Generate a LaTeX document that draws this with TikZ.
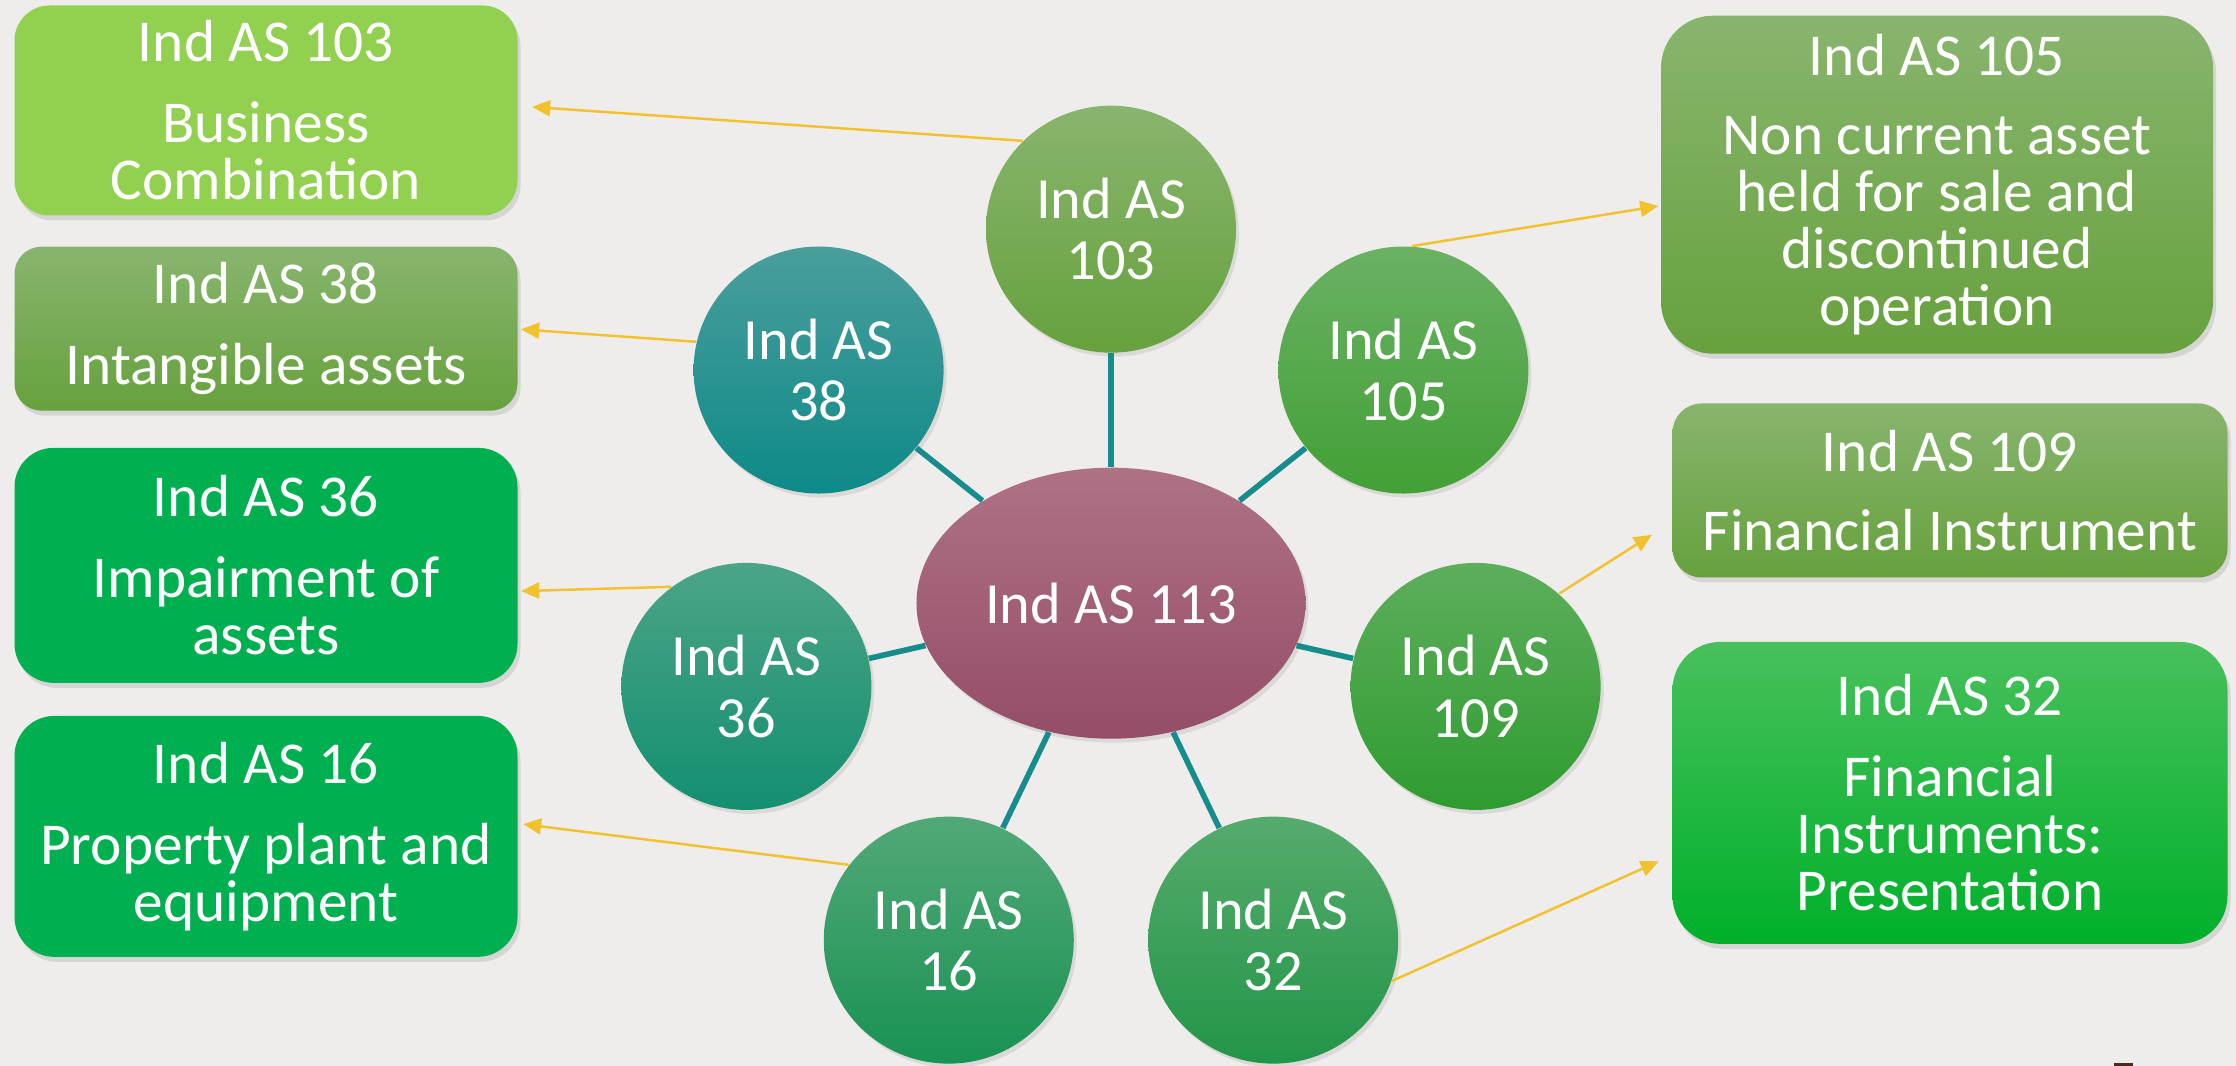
\documentclass[tikz,border=0pt]{standalone}
\usepackage{fontspec}
\setmainfont{Carlito}
\usetikzlibrary{shapes.geometric,arrows.meta,shadows}

\definecolor{bgcol}{HTML}{EEEDEB}
\definecolor{spokecol}{HTML}{178C8C}
\definecolor{linkcol}{HTML}{F2C12E}
\definecolor{limegreen}{HTML}{92D050}
\definecolor{plaingreen}{HTML}{00B050}
\definecolor{olivetop}{HTML}{88B56E}
\definecolor{olivebot}{HTML}{67A13D}
\definecolor{brighttop}{HTML}{48C05C}
\definecolor{brightbot}{HTML}{00B02A}
\definecolor{hubtop}{HTML}{AE7285}
\definecolor{hubbot}{HTML}{954D68}
\definecolor{teal38top}{HTML}{4A9E9C}
\definecolor{teal38bot}{HTML}{0D8A88}
\definecolor{g105top}{HTML}{6AB164}
\definecolor{g105bot}{HTML}{42A035}
\definecolor{g36top}{HTML}{4CA488}
\definecolor{g36bot}{HTML}{138F70}
\definecolor{g109top}{HTML}{5EAE5C}
\definecolor{g109bot}{HTML}{2E9C30}
\definecolor{g16top}{HTML}{52A878}
\definecolor{g16bot}{HTML}{199253}
\definecolor{g32top}{HTML}{56AB6C}
\definecolor{g32bot}{HTML}{229548}
\definecolor{pagemark}{HTML}{4A2A1E}

\tikzset{
  box/.style={align=center, text=white, inner sep=0pt, minimum width=5.03cm,
    font=\fontsize{16.9}{16.2}\selectfont,
    drop shadow={opacity=0.22, shadow xshift=0.03cm, shadow yshift=-0.05cm}},
  sat/.style={ellipse, align=center, text=white, inner sep=0pt,
    minimum width=2.5cm, minimum height=2.47cm,
    font=\fontsize{16.6}{17.4}\selectfont,
    drop shadow={opacity=0.18, shadow xshift=0.03cm, shadow yshift=-0.04cm}},
  spoke/.style={draw=spokecol, line width=1.6pt},
  link/.style={draw=linkcol, line width=0.7pt, -{Triangle[length=1.8mm,width=1.6mm]}}
}

\begin{document}
\begin{tikzpicture}
    \fill[bgcol] (0,0) rectangle (22.36,10.66);
    % left boxes
    \node[box, fill=limegreen, minimum height=2.10cm, rounded corners=0.35cm] (b103) at (2.66,9.555)
        {Ind AS 103\\[0.24cm]Business\\Combination};
    \node[box, top color=olivetop, bottom color=olivebot, minimum height=1.64cm, rounded corners=0.27cm] (b38) at (2.66,7.373)
        {Ind AS 38\\[0.24cm]Intangible assets};
    \node[box, fill=plaingreen, minimum height=2.35cm, rounded corners=0.39cm] (b36) at (2.66,5.006)
        {Ind AS 36\\[0.24cm]Impairment of\\assets};
    \node[box, fill=plaingreen, minimum height=2.41cm, rounded corners=0.40cm] (b16) at (2.66,2.296)
        {Ind AS 16\\[0.24cm]Property plant and\\equipment};
    % right boxes
    \node[box, top color=olivetop, bottom color=olivebot, minimum width=5.52cm, minimum height=3.38cm, rounded corners=0.52cm] (b105) at (19.37,8.813)
        {Ind AS 105\\[0.22cm]Non current asset\\held for sale and\\discontinued\\operation};
    \node[box, top color=olivetop, bottom color=olivebot, minimum width=5.55cm, minimum height=1.74cm, rounded corners=0.29cm] (b109) at (19.50,5.755)
        {Ind AS 109\\[0.22cm]Financial Instrument};
    \node[box, top color=brighttop, bottom color=brightbot, minimum width=5.55cm, minimum height=3.02cm, rounded corners=0.48cm] (b32) at (19.50,2.731)
        {Ind AS 32\\[0.24cm]Financial\\Instruments:\\Presentation};

    % hub and satellites
    \node[ellipse, minimum width=3.65cm, minimum height=2.71cm, top color=hubtop, bottom color=hubbot,
        text=white, font=\fontsize{16.6}{17.4}\selectfont,
        drop shadow={opacity=0.18, shadow xshift=0.03cm, shadow yshift=-0.04cm}] (c113) at (11.11,4.628) {Ind AS 113};
    \node[sat, top color=olivetop, bottom color=olivebot] (s103) at ([shift={(90:3.74)}]c113) {Ind AS\\103};
    \node[sat, top color=teal38top, bottom color=teal38bot] (s38) at ([shift={(141.43:3.74)}]c113) {Ind AS\\38};
    \node[sat, top color=g105top, bottom color=g105bot] (s105) at ([shift={(38.57:3.74)}]c113) {Ind AS\\105};
    \node[sat, top color=g36top, bottom color=g36bot] (s36) at ([shift={(192.86:3.74)}]c113) {Ind AS\\36};
    \node[sat, top color=g109top, bottom color=g109bot] (s109) at ([shift={(347.14:3.74)}]c113) {Ind AS\\109};
    \node[sat, top color=g16top, bottom color=g16bot] (s16) at ([shift={(244.29:3.74)}]c113) {Ind AS\\16};
    \node[sat, top color=g32top, bottom color=g32bot] (s32) at ([shift={(295.71:3.74)}]c113) {Ind AS\\32};

    \foreach \s in {s103,s38,s105,s36,s109,s16,s32}
        \draw[spoke] (c113) -- (\s);

    % arrow tips next to the boxes
    \coordinate (t103) at ([xshift=0.14cm,yshift=0.035cm]b103.east);
    \coordinate (t38) at ([xshift=0.03cm,yshift=-0.007cm]b38.east);
    \coordinate (t36) at ([xshift=0.03cm,yshift=-0.257cm]b36.east);
    \coordinate (t16) at ([xshift=0.05cm,yshift=0.122cm]b16.east);
    \coordinate (t105) at ([xshift=-0.02cm,yshift=-0.213cm]b105.west);
    \coordinate (t109) at ([xshift=-0.2cm,yshift=-0.443cm]b109.west);
    \coordinate (t32) at ([xshift=-0.13cm,yshift=-0.684cm]b32.west);

    \draw[link] (s103.135.8) -- (t103);
    \draw[link] (s38.167.2) -- (t38);
    \draw[link] (s36.127.9) -- (t36);
    \draw[link] (s16.143.4) -- (t16);
    \draw[link] (s105.86.4) -- (t105);
    \draw[link] (s109.48.4) -- (t109);
    \draw[link] (s32.-19.4) -- (t32);

    \fill[pagemark] (21.14,0) rectangle (21.33,0.025);
\end{tikzpicture}
\end{document}
